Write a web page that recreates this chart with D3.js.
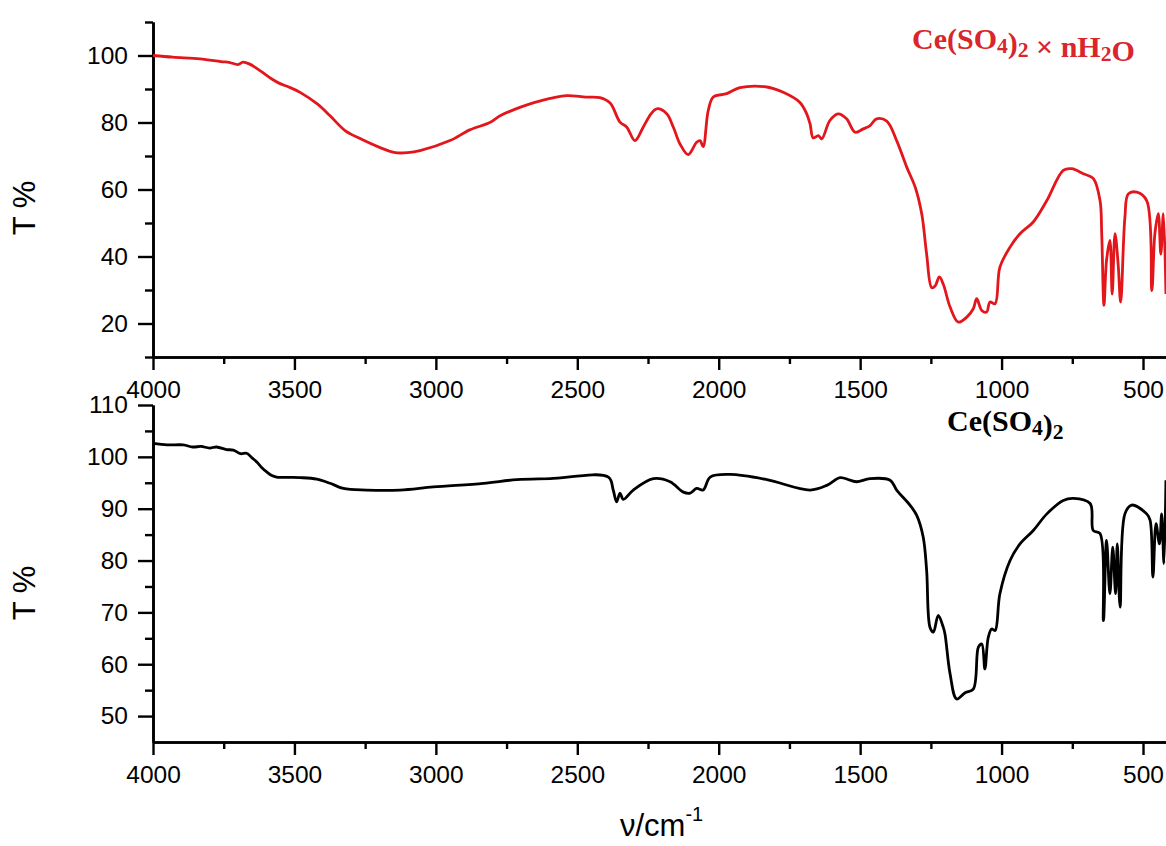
<!DOCTYPE html>
<html>
<head>
<meta charset="utf-8">
<script src="https://cdn.jsdelivr.net/npm/d3@7"></script>
<style>
  html, body { margin: 0; padding: 0; background: #ffffff; }
  svg { display: block; }
  .tick text { font-family: "Liberation Sans", Arial, sans-serif; }
</style>
</head>
<body>
<svg id="chart" width="1166" height="846"></svg>
<script>
// ---------- data ----------
const hydrateWavenumber = [4000,3930,3834,3760,3728,3700,3682,3660,3622,3580,3551,3520,3480,3417,3374,3321,3268,3197,3144,3100,3056,2950,2880,2809,2773,2703,2650,2596,2537,2470,2420,2384,2349,2325,2296,2267,2240,2219,2184,2160,2137,2108,2078,2066,2055,2037,2019,1972,1925,1830,1772,1713,1689,1677,1666,1648,1636,1607,1578,1548,1518,1489,1465,1442,1406,1371,1335,1305,1282,1265,1247,1235,1220,1206,1182,1153,1123,1100,1088,1070,1053,1041,1023,1006,970,935,888,840,782,752,711,676,652,646,638,629,617,609,599,588,579,564,552,522,487,469,458,446,437,428,419];
const hydrateTransmittance = [100,99.5,99,98.2,97.9,97.3,98,97.5,95.5,93,91.6,90.6,89,85.4,82,77.6,75.2,72.5,71,71,71.6,74.6,77.8,80,82,84.5,86,87.2,88,87.6,87.4,85.8,80.1,78.6,74.6,78.6,82.5,84.1,82.6,78.5,73.6,70.4,74.1,74.6,72.8,83.6,87.6,88.6,90.4,90.6,89,86,82.6,79.6,75.4,76.1,75.1,80.6,82.6,81.1,77.1,78.1,79.1,81.1,80.4,74.6,66.6,60.6,52.6,40.7,30.7,31.2,33.9,31.7,24.9,20.4,21.9,24.4,27.4,23.9,23.4,26.4,25.9,36.8,42.8,46.8,50.3,56.7,65.7,66.2,64.7,63.3,56.7,46.8,25.4,38.8,44.8,28.8,46.8,37.8,26.4,51.7,58.7,59.2,56.7,29.8,46.8,52.8,40.7,52.8,28.8];

const anhydrousWavenumber = [4000,3950,3893,3860,3830,3800,3775,3740,3716,3690,3669,3650,3633,3615,3598,3580,3563,3480,3421,3374,3327,3245,3127,3009,2832,2714,2596,2390,2373,2361,2349,2337,2302,2231,2172,2125,2101,2078,2055,2030,1960,1830,1677,1618,1571,1536,1512,1465,1394,1371,1324,1300,1277,1265,1253,1241,1224,1206,1200,1182,1159,1129,1100,1082,1070,1059,1047,1035,1023,1006,970,935,888,840,782,746,687,676,652,640,629,617,607,597,591,581,564,540,487,475,465,454,442,434,426,419];
const anhydrousTransmittance = [102.6,102.3,102.3,101.9,102,101.7,101.9,101.4,101.3,100.6,100.7,99.8,99,97.9,97.1,96.4,96.1,96,95.7,94.9,93.9,93.6,93.6,94.2,94.9,95.6,95.8,96.1,93.6,91.3,93,91.8,93.6,95.8,95.2,93.2,93,93.9,93.6,96.1,96.6,95.6,93.6,94.5,96,95.5,95.2,95.8,95.5,93.6,90.7,88.7,84.5,78.1,67.1,66.2,69.4,67.1,65.8,58.1,53.3,54.5,55.2,63.3,63.9,59.1,65.2,66.8,66.5,73.6,80,83.2,85.8,89,91.6,92,91,85.8,85.2,68.4,83.9,73.6,82.6,73.6,83.2,71,89,90.7,89,87.8,76.8,87.1,83.2,89,79.4,95.5];

const xMajorTicks = [4000,3500,3000,2500,2000,1500,1000,500];
const xMinorTicks = [3750,3250,2750,2250,1750,1250,750];
const topYMajorTicks = [20,40,60,80,100];
const topYMinorTicks = [10,30,50,70,90,110];
const bottomYMajorTicks = [50,60,70,80,90,100,110];
const bottomYMinorTicks = [55,65,75,85,95,105];

const hydrateLabel = "Ce(SO4)2 × nH2O";
const anhydrousLabel = "Ce(SO4)2";
const yAxisTitle = "T %";

// ---------- drawing ----------
const svg = d3.select("#chart");
const RED = "#e3161c";
const SANS = "'Liberation Sans', Arial, sans-serif";
const SERIF = "'Liberation Serif', 'Times New Roman', serif";

const x = d3.scaleLinear().domain([4000, 400]).range([153, 1171.3]);
const yTop = d3.scaleLinear().domain([10, 110]).range([357, 22]);
const yBot = d3.scaleLinear().domain([45, 110]).range([742, 405]);

function styleAxis(g) {
  g.select(".domain").attr("stroke", "#000").attr("stroke-width", 2.6);
  g.selectAll(".tick line").attr("stroke", "#000").attr("stroke-width", 2.4);
  g.selectAll(".tick text").attr("fill", "#000").attr("font-size", 24.5).attr("font-family", SANS);
}

function panel(y, yMajor, yMinor, xAxisY) {
  svg.append("g").attr("transform", `translate(0,${xAxisY})`)
    .call(d3.axisBottom(x).tickValues(xMinorTicks).tickSize(7).tickSizeOuter(0).tickFormat(""))
    .call(styleAxis);
  svg.append("g").attr("transform", `translate(0,${xAxisY})`)
    .call(d3.axisBottom(x).tickValues(xMajorTicks).tickSize(13).tickSizeOuter(0).tickPadding(11).tickFormat(d3.format("d")))
    .call(styleAxis);
  svg.append("g").attr("transform", `translate(153,0)`)
    .call(d3.axisLeft(y).tickValues(yMinor).tickSize(8).tickSizeOuter(0).tickFormat(""))
    .call(styleAxis);
  svg.append("g").attr("transform", `translate(153,0)`)
    .call(d3.axisLeft(y).tickValues(yMajor).tickSize(15).tickSizeOuter(0).tickPadding(10).tickFormat(d3.format("d")))
    .call(styleAxis);
}

panel(yTop, topYMajorTicks, topYMinorTicks, 357);
panel(yBot, bottomYMajorTicks, bottomYMinorTicks, 742);

svg.append("path").datum(hydrateTransmittance)
  .attr("d", d3.line().x((d, i) => x(hydrateWavenumber[i])).y(d => yTop(d)).curve(d3.curveCatmullRom.alpha(0.5)))
  .attr("fill", "none").attr("stroke", RED).attr("stroke-width", 2.8).attr("stroke-linejoin", "round");

svg.append("path").datum(anhydrousTransmittance)
  .attr("d", d3.line().x((d, i) => x(anhydrousWavenumber[i])).y(d => yBot(d)).curve(d3.curveCatmullRom.alpha(0.5)))
  .attr("fill", "none").attr("stroke", "#000").attr("stroke-width", 2.8).attr("stroke-linejoin", "round");

// chemical formula labels with subscripts
function formula(sel, str) {
  const parts = str.split(/(\d)/);
  parts.forEach(p => {
    if (p === "") return;
    if (/^\d$/.test(p)) {
      sel.append("tspan").attr("font-size", "0.72em").attr("dy", "0.18em").text(p);
      sel.append("tspan").attr("font-size", "1em").attr("dy", "-0.13em").text("");
    } else {
      sel.append("tspan").text(p);
    }
  });
}

const t1 = svg.append("text").attr("x", 912).attr("y", 49)
  .attr("font-family", SERIF).attr("font-weight", "bold").attr("font-size", 30).attr("fill", "#d8262c");
formula(t1, hydrateLabel);

const t2 = svg.append("text").attr("x", 947).attr("y", 431)
  .attr("font-family", SERIF).attr("font-weight", "bold").attr("font-size", 30).attr("fill", "#000");
formula(t2, anhydrousLabel);

// y axis titles
[208, 593].forEach(cy => {
  svg.append("text").attr("transform", `translate(35,${cy}) rotate(-90)`)
    .attr("text-anchor", "middle").attr("font-family", SANS).attr("font-size", 31).attr("fill", "#000")
    .text(yAxisTitle);
});

// x axis title
const xt = svg.append("text").attr("x", 620).attr("y", 836)
  .attr("font-family", SANS).attr("font-size", 31).attr("fill", "#000");
xt.append("tspan").text("ν/cm");
xt.append("tspan").attr("font-size", 20).attr("dy", -15).text("-1");
</script>
</body>
</html>
